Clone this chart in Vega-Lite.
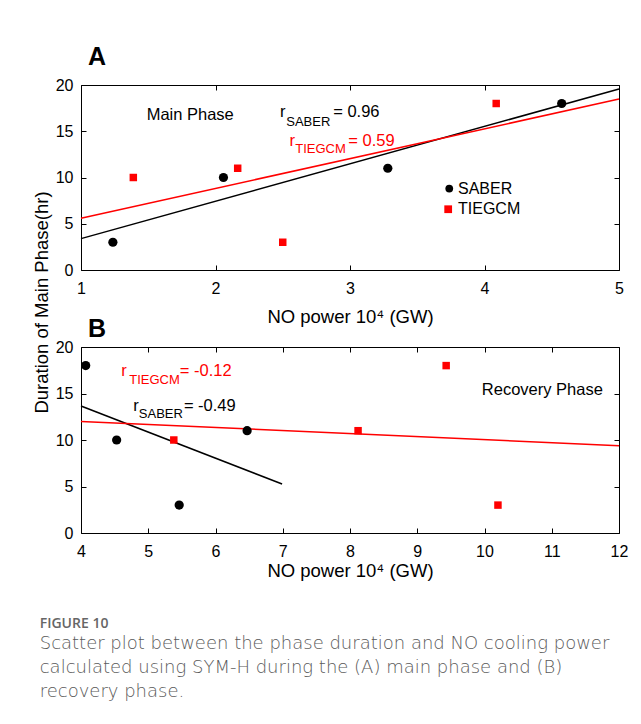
{
  "$schema": "https://vega.github.io/schema/vega-lite/v6.json",
  "background": "white",
  "autosize": {"type": "pad"},
  "padding": {"left": 31, "top": 44, "right": 12, "bottom": 12},
  "bounds": "flush",
  "spacing": 77,
  "datasets": {
    "pointsA": [
      {"x": 1.237, "y": 3, "series": "SABER"},
      {"x": 2.059, "y": 10, "series": "SABER"},
      {"x": 3.281, "y": 11, "series": "SABER"},
      {"x": 4.574, "y": 18, "series": "SABER"},
      {"x": 1.389, "y": 10, "series": "TIEGCM"},
      {"x": 2.165, "y": 11, "series": "TIEGCM"},
      {"x": 2.5, "y": 3, "series": "TIEGCM"},
      {"x": 4.087, "y": 18, "series": "TIEGCM"}
    ],
    "linesA": [
      {"x": 1, "y": 3.39, "series": "SABER"},
      {"x": 5, "y": 19.57, "series": "SABER"},
      {"x": 1, "y": 5.6, "series": "TIEGCM"},
      {"x": 5, "y": 18.48, "series": "TIEGCM"}
    ],
    "legendA": [
      {"x": 3.738, "tx": 3.803, "y": 8.81, "series": "SABER"},
      {"x": 3.73, "tx": 3.803, "y": 6.57, "series": "TIEGCM"}
    ],
    "labelsA": [
      {"x": 1.488, "y": 16.2, "text": "Main Phase", "series": "none", "role": "main"},
      {"x": 2.48, "y": 16.5, "text": "r", "series": "SABER", "role": "main"},
      {"x": 2.526, "y": 15.6, "text": "SABER", "series": "SABER", "role": "sub"},
      {"x": 2.875, "y": 16.5, "text": "= 0.96", "series": "SABER", "role": "main"},
      {"x": 2.55, "y": 13.44, "text": "r", "series": "TIEGCM", "role": "main"},
      {"x": 2.593, "y": 12.62, "text": "TIEGCM", "series": "TIEGCM", "role": "sub"},
      {"x": 2.987, "y": 13.44, "text": "= 0.59", "series": "TIEGCM", "role": "main"}
    ],
    "pointsB": [
      {"x": 4.07, "y": 18, "series": "SABER"},
      {"x": 4.53, "y": 10, "series": "SABER"},
      {"x": 5.46, "y": 3, "series": "SABER"},
      {"x": 6.47, "y": 11, "series": "SABER"},
      {"x": 5.38, "y": 10, "series": "TIEGCM"},
      {"x": 8.12, "y": 11, "series": "TIEGCM"},
      {"x": 9.43, "y": 18, "series": "TIEGCM"},
      {"x": 10.2, "y": 3, "series": "TIEGCM"}
    ],
    "linesB": [
      {"x": 4, "y": 13.66, "series": "SABER"},
      {"x": 6.99, "y": 5.27, "series": "SABER"},
      {"x": 4, "y": 12.0, "series": "TIEGCM"},
      {"x": 12, "y": 9.39, "series": "TIEGCM"}
    ],
    "labelsB": [
      {"x": 4.6, "y": 16.85, "text": "r", "series": "TIEGCM", "role": "main"},
      {"x": 4.717, "y": 16.02, "text": "TIEGCM", "series": "TIEGCM", "role": "sub"},
      {"x": 5.47, "y": 16.85, "text": "= -0.12", "series": "TIEGCM", "role": "main"},
      {"x": 4.776, "y": 13.09, "text": "r", "series": "SABER", "role": "main"},
      {"x": 4.86, "y": 12.33, "text": "SABER", "series": "SABER", "role": "sub"},
      {"x": 5.53, "y": 13.09, "text": "= -0.49", "series": "SABER", "role": "main"},
      {"x": 11.76, "y": 14.84, "text": "Recovery Phase", "series": "none", "role": "right"}
    ]
  },
  "resolve": {"scale": {"color": "independent", "shape": "independent", "size": "independent"}},
  "vconcat": [
    {
      "width": 538,
      "height": 185,
      "title": {"text": "A", "anchor": "start", "frame": "group", "dx": 7, "offset": -13, "baseline": "alphabetic", "fontSize": 25, "fontWeight": "bold", "font": "Liberation Sans", "color": "black"},
      "layer": [
        {
          "data": {"name": "linesA"},
          "mark": {"type": "line", "strokeWidth": 1.5},
          "encoding": {
            "x": {"field": "x", "type": "quantitative", "scale": {"domain": [1, 5], "nice": false, "zero": false},
                  "axis": {"orient": "bottom", "values": [1, 2, 3, 4, 5], "title": "NO power 10⁴ (GW)", "titlePadding": 11}},
            "y": {"field": "y", "type": "quantitative", "scale": {"domain": [0, 20], "nice": false},
                  "axis": {"orient": "left", "values": [0, 5, 10, 15, 20], "title": "Duration of Main Phase(hr)", "titleY": 217, "titlePadding": 4}},
            "color": {"field": "series", "type": "nominal", "scale": {"domain": ["SABER", "TIEGCM"], "range": ["black", "#ff0000"]}, "legend": null},
            "detail": {"field": "series"}
          }
        },
        {
          "data": {"name": "pointsA"},
          "mark": {"type": "point", "filled": true, "opacity": 1, "strokeWidth": 0},
          "encoding": {
            "x": {"field": "x", "type": "quantitative", "axis": {"orient": "top", "values": [1, 2, 3, 4, 5], "labels": false, "title": null}},
            "y": {"field": "y", "type": "quantitative", "axis": {"orient": "right", "values": [0, 5, 10, 15, 20], "labels": false, "title": null}},
            "color": {"field": "series", "type": "nominal", "scale": {"domain": ["SABER", "TIEGCM"], "range": ["black", "#ff0000"]}, "legend": null},
            "shape": {"field": "series", "type": "nominal", "scale": {"domain": ["SABER", "TIEGCM"], "range": ["circle", "square"]}, "legend": null},
            "size": {"field": "series", "type": "nominal", "scale": {"domain": ["SABER", "TIEGCM"], "range": [85, 56]}, "legend": null}
          }
        },
        {
          "data": {"name": "legendA"},
          "mark": {"type": "point", "filled": true, "opacity": 1, "strokeWidth": 0},
          "encoding": {
            "x": {"field": "x", "type": "quantitative", "axis": null},
            "y": {"field": "y", "type": "quantitative", "axis": null},
            "color": {"field": "series", "type": "nominal", "scale": {"domain": ["SABER", "TIEGCM"], "range": ["black", "#ff0000"]}, "legend": null},
            "shape": {"field": "series", "type": "nominal", "scale": {"domain": ["SABER", "TIEGCM"], "range": ["circle", "square"]}, "legend": null},
            "size": {"value": 60}
          }
        },
        {
          "data": {"name": "legendA"},
          "mark": {"type": "text", "align": "left", "baseline": "middle", "fontSize": 16, "font": "Liberation Sans", "color": "black"},
          "encoding": {
            "x": {"field": "tx", "type": "quantitative", "axis": null},
            "y": {"field": "y", "type": "quantitative", "axis": null},
            "text": {"field": "series"}
          }
        },
        {
          "data": {"name": "labelsA"},
          "transform": [{"filter": "datum.role === 'main'"}],
          "mark": {"type": "text", "align": "left", "baseline": "alphabetic", "fontSize": 16.5, "font": "Liberation Sans"},
          "encoding": {
            "x": {"field": "x", "type": "quantitative", "axis": null},
            "y": {"field": "y", "type": "quantitative", "axis": null},
            "text": {"field": "text"},
            "color": {"condition": {"test": "datum.series === 'TIEGCM'", "value": "#ff0000"}, "value": "black"}
          }
        },
        {
          "data": {"name": "labelsA"},
          "transform": [{"filter": "datum.role === 'sub'"}],
          "mark": {"type": "text", "align": "left", "baseline": "alphabetic", "fontSize": 13, "font": "Liberation Sans"},
          "encoding": {
            "x": {"field": "x", "type": "quantitative", "axis": null},
            "y": {"field": "y", "type": "quantitative", "axis": null},
            "text": {"field": "text"},
            "color": {"condition": {"test": "datum.series === 'TIEGCM'", "value": "#ff0000"}, "value": "black"}
          }
        }
      ]
    },
    {
      "width": 538,
      "height": 186,
      "title": {"text": "B", "anchor": "start", "frame": "group", "dx": 7, "offset": -23, "baseline": "alphabetic", "fontSize": 25, "fontWeight": "bold", "font": "Liberation Sans", "color": "black"},
      "layer": [
        {
          "data": {"name": "linesB"},
          "mark": {"type": "line", "strokeWidth": 1.5},
          "encoding": {
            "x": {"field": "x", "type": "quantitative", "scale": {"domain": [4, 12], "nice": false, "zero": false},
                  "axis": {"orient": "bottom", "values": [4, 5, 6, 7, 8, 9, 10, 11, 12], "title": "NO power 10⁴ (GW)", "titlePadding": 2}},
            "y": {"field": "y", "type": "quantitative", "scale": {"domain": [0, 20], "nice": false},
                  "axis": {"orient": "left", "values": [0, 5, 10, 15, 20], "title": null}},
            "color": {"field": "series", "type": "nominal", "scale": {"domain": ["SABER", "TIEGCM"], "range": ["black", "#ff0000"]}, "legend": null},
            "detail": {"field": "series"}
          }
        },
        {
          "data": {"name": "pointsB"},
          "mark": {"type": "point", "filled": true, "opacity": 1, "strokeWidth": 0},
          "encoding": {
            "x": {"field": "x", "type": "quantitative", "axis": {"orient": "top", "values": [4, 5, 6, 7, 8, 9, 10, 11, 12], "labels": false, "title": null}},
            "y": {"field": "y", "type": "quantitative", "axis": {"orient": "right", "values": [0, 5, 10, 15, 20], "labels": false, "title": null}},
            "color": {"field": "series", "type": "nominal", "scale": {"domain": ["SABER", "TIEGCM"], "range": ["black", "#ff0000"]}, "legend": null},
            "shape": {"field": "series", "type": "nominal", "scale": {"domain": ["SABER", "TIEGCM"], "range": ["circle", "square"]}, "legend": null},
            "size": {"field": "series", "type": "nominal", "scale": {"domain": ["SABER", "TIEGCM"], "range": [85, 56]}, "legend": null}
          }
        },
        {
          "data": {"name": "labelsB"},
          "transform": [{"filter": "datum.role === 'main'"}],
          "mark": {"type": "text", "align": "left", "baseline": "alphabetic", "fontSize": 16.5, "font": "Liberation Sans"},
          "encoding": {
            "x": {"field": "x", "type": "quantitative", "axis": null},
            "y": {"field": "y", "type": "quantitative", "axis": null},
            "text": {"field": "text"},
            "color": {"condition": {"test": "datum.series === 'TIEGCM'", "value": "#ff0000"}, "value": "black"}
          }
        },
        {
          "data": {"name": "labelsB"},
          "transform": [{"filter": "datum.role === 'sub'"}],
          "mark": {"type": "text", "align": "left", "baseline": "alphabetic", "fontSize": 13, "font": "Liberation Sans"},
          "encoding": {
            "x": {"field": "x", "type": "quantitative", "axis": null},
            "y": {"field": "y", "type": "quantitative", "axis": null},
            "text": {"field": "text"},
            "color": {"condition": {"test": "datum.series === 'TIEGCM'", "value": "#ff0000"}, "value": "black"}
          }
        },
        {
          "data": {"name": "labelsB"},
          "transform": [{"filter": "datum.role === 'right'"}],
          "mark": {"type": "text", "align": "right", "baseline": "alphabetic", "fontSize": 16.5, "font": "Liberation Sans", "color": "black"},
          "encoding": {
            "x": {"field": "x", "type": "quantitative", "axis": null},
            "y": {"field": "y", "type": "quantitative", "axis": null},
            "text": {"field": "text"}
          }
        }
      ]
    }
  ],
  "title": {
    "text": "FIGURE 10",
    "subtitle": ["Scatter plot between the phase duration and NO cooling power", "calculated using SYM-H during the (A) main phase and (B)", "recovery phase."],
    "orient": "bottom",
    "anchor": "start",
    "frame": "bounds",
    "dx": 8,
    "offset": 37,
    "font": "Open Sans",
    "fontSize": 14,
    "fontWeight": 600,
    "color": "#666666",
    "subtitleFont": "DejaVu Sans",
    "subtitleFontSize": 18,
    "subtitleFontWeight": 300,
    "subtitleColor": "#5a5a5a",
    "subtitleLineHeight": 24,
    "subtitlePadding": 4
  },
  "config": {
    "font": "Liberation Sans",
    "view": {"stroke": "black", "strokeWidth": 1},
    "axis": {
      "grid": false,
      "domain": false,
      "ticks": true,
      "tickColor": "black",
      "tickSize": -5,
      "tickWidth": 1,
      "labelFont": "Liberation Sans",
      "labelFontSize": 16,
      "labelColor": "black",
      "labelPadding": 13,
      "labelFlush": false,
      "titleFont": "Liberation Sans",
      "titleFontSize": 18.5,
      "titleFontWeight": "normal",
      "titleColor": "black"
    },
    "axisX": {"labelPadding": 15}
  }
}
